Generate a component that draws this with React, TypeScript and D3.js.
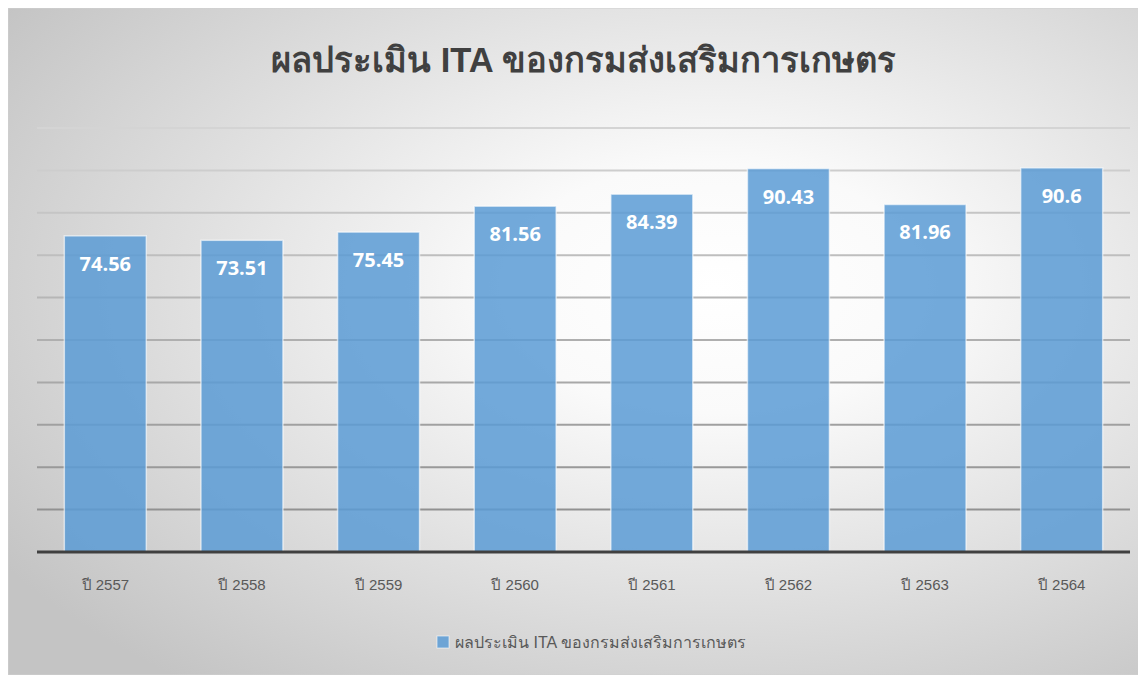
import React from "react";
import * as d3 from "d3";

const categories = ["ปี 2557", "ปี 2558", "ปี 2559", "ปี 2560", "ปี 2561", "ปี 2562", "ปี 2563", "ปี 2564"];
const values = [74.56, 73.51, 75.45, 81.56, 84.39, 90.43, 81.96, 90.6];
const valueLabels = ["74.56", "73.51", "75.45", "81.56", "84.39", "90.43", "81.96", "90.6"];
const yTicks = [0, 10, 20, 30, 40, 50, 60, 70, 80, 90, 100];
const title = "ผลประเมิน ITA ของกรมส่งเสริมการเกษตร";
const seriesName = "ผลประเมิน ITA ของกรมส่งเสริมการเกษตร";

const W = 1138;
const H = 667;
const plotLeft = 29;
const plotRight = 1122;
const plotTop = 120;
const plotBottom = 544;

export default function App() {
  const x = d3.scaleBand<string>().domain(categories).range([plotLeft, plotRight]).paddingInner(0.4).paddingOuter(0.2);
  const y = d3.scaleLinear().domain([0, 100]).range([plotBottom, plotTop]);
  const gridColor = d3.interpolateRgb("#d4d4d4", "#8a8a8a");
  const font = "'Liberation Sans', 'Noto Sans', sans-serif";
  return (
    <svg width={W} height={H} style={{ display: "block" }}>
      <defs>
        <radialGradient id="bg" cx="0.62" cy="0.42" r="0.75" gradientUnits="objectBoundingBox">
          <stop offset="0" stopColor="#ffffff" />
          <stop offset="0.25" stopColor="#fafafa" />
          <stop offset="1" stopColor="#c4c4c4" />
        </radialGradient>
      </defs>
      <rect x={0} y={0} width={W} height={H} fill="url(#bg)" stroke="#d0d0d0" strokeWidth={1} />
      <text x={(plotLeft + plotRight) / 2} y={64} textAnchor="middle" fontFamily={font} fontWeight="bold" fontSize={34.5} fill="#404040">
        {title}
      </text>
      {yTicks.slice(1).map((t) => (
        <line key={t} x1={plotLeft} x2={plotRight} y1={y(t)} y2={y(t)} stroke={gridColor(1 - t / 100)} strokeWidth={2} />
      ))}
      {categories.map((c, i) => (
        <g key={c}>
          <rect x={x(c)} y={y(values[i])} width={x.bandwidth()} height={plotBottom - y(values[i])} fill="#5b9bd5" fillOpacity={0.85} stroke="#ffffff" strokeOpacity={0.6} strokeWidth={1.5} />
          <text x={(x(c) as number) + x.bandwidth() / 2} y={y(values[i]) + 35} textAnchor="middle" fontFamily="'Open Sans', sans-serif" fontWeight="bold" fontSize={20} fill="#ffffff">
            {valueLabels[i]}
          </text>
          <text x={(x(c) as number) + x.bandwidth() / 2} y={plotBottom + 38} textAnchor="middle" fontFamily={font} fontSize={15} fill="#595959">
            {c}
          </text>
        </g>
      ))}
      <line x1={plotLeft} x2={plotRight} y1={plotBottom} y2={plotBottom} stroke="#404040" strokeWidth={3} />
      <g>
        <rect x={429} y={628} width={12} height={12} fill="#5b9bd5" fillOpacity={0.85} stroke="#ffffff" strokeOpacity={0.6} />
        <text x={447} y={639.5} fontFamily={font} fontSize={16} fill="#595959">{seriesName}</text>
      </g>
    </svg>
  );
}
